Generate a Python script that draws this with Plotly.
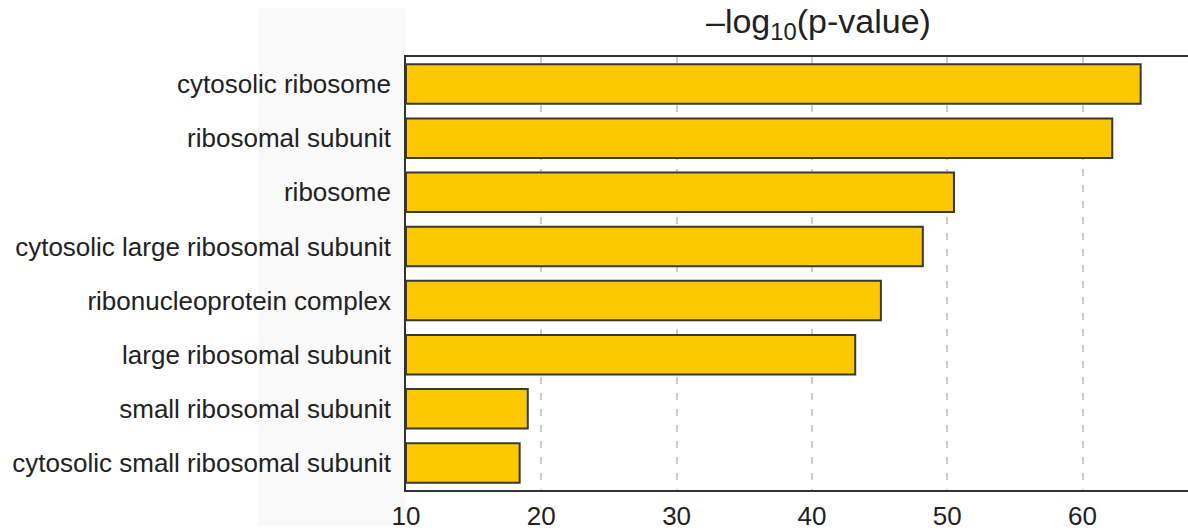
import plotly.graph_objects as go

# GO cellular-component enrichment terms, top to bottom
terms = [
    "cytosolic ribosome",
    "ribosomal subunit",
    "ribosome",
    "cytosolic large ribosomal subunit",
    "ribonucleoprotein complex",
    "large ribosomal subunit",
    "small ribosomal subunit",
    "cytosolic small ribosomal subunit",
]
neg_log10_p = [64.3, 62.2, 50.5, 48.2, 45.1, 43.2, 19.0, 18.4]
tick_vals = [10, 20, 30, 40, 50, 60]
axis_origin = 10

W, H = 1188, 531
ML, MR, MT, MB = 406, 0, 57, 36

fig = go.Figure(
    go.Bar(
        x=[v - axis_origin for v in neg_log10_p],
        y=terms,
        orientation="h",
        base=axis_origin,
        marker=dict(color="#FEC800", line=dict(color="#383838", width=2)),
        width=0.73,
        hovertext=[f"{v:.1f}" for v in neg_log10_p],
    )
)

plot_w = W - ML - MR
plot_h = H - MT - MB

fig.update_layout(
    width=W,
    height=H,
    margin=dict(l=ML, r=MR, t=MT, b=MB),
    paper_bgcolor="white",
    plot_bgcolor="white",
    font=dict(family="Liberation Sans, Arial, sans-serif", size=26, color="#222222"),
    showlegend=False,
    shapes=[
        dict(
            type="rect", xref="paper", yref="paper",
            x0=(258 - ML) / plot_w, x1=0,
            y0=-(MB) / plot_h, y1=(H - MB - 8) / plot_h,
            fillcolor="#f9f9f9", line=dict(width=0), layer="below",
        )
    ],
    annotations=[
        dict(
            text="\u2013log<sub>10</sub>(p-value)",
            xref="paper", yref="paper",
            x=(818 - ML) / plot_w, y=1 + (MT - 23) / plot_h,
            xanchor="center", yanchor="middle",
            showarrow=False,
            font=dict(size=34, color="#222222"),
        )
    ],
)

fig.update_xaxes(
    range=[axis_origin, axis_origin + (W - ML) / 13.53],
    tickvals=tick_vals,
    ticktext=[str(v) for v in tick_vals],
    tickfont=dict(size=26, color="#222222"),
    showgrid=True,
    gridcolor="#cccccc",
    griddash="7px,9px",
    gridwidth=2,
    showline=True,
    linecolor="#333333",
    linewidth=1.8,
    mirror=True,
    zeroline=False,
    ticks="",
    ticklabelstandoff=2,
)
fig.update_yaxes(
    categoryorder="array",
    categoryarray=list(reversed(terms)),
    showline=True,
    linecolor="#333333",
    linewidth=1.8,
    showgrid=False,
    ticks="",
    tickfont=dict(size=26, color="#222222"),
    ticklabelstandoff=8,
)

fig.write_html("out.html")
